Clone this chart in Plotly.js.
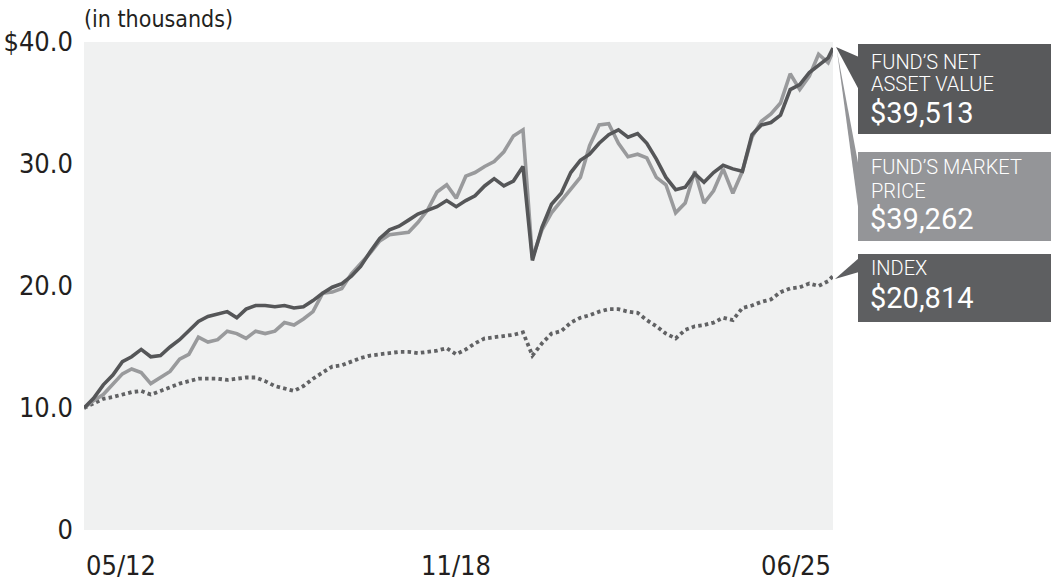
<!DOCTYPE html>
<html>
<head>
<meta charset="utf-8">
<script src="https://cdn.plot.ly/plotly-3.0.1.min.js"></script>
<style>html,body{margin:0;padding:0;background:#fff;}#chart{width:1051px;height:587px;}</style>
</head>
<body>
<div id="chart"></div>
<script>
// ---- Data (values in thousands of dollars) ----
const dates = [
  "2012-05","2012-07","2012-09","2012-11",
  "2013-01","2013-03","2013-05","2013-07","2013-09","2013-11",
  "2014-01","2014-03","2014-05","2014-07","2014-09","2014-11",
  "2015-01","2015-03","2015-05","2015-07","2015-09","2015-11",
  "2016-01","2016-03","2016-05","2016-07","2016-09","2016-11",
  "2017-01","2017-03","2017-05","2017-07","2017-09","2017-11",
  "2018-01","2018-03","2018-05","2018-07","2018-09","2018-11",
  "2019-01","2019-03","2019-05","2019-07","2019-09","2019-11",
  "2020-01","2020-03","2020-05","2020-07","2020-09","2020-11",
  "2021-01","2021-03","2021-05","2021-07","2021-09","2021-11",
  "2022-01","2022-03","2022-05","2022-07","2022-09","2022-11",
  "2023-01","2023-03","2023-05","2023-07","2023-09","2023-11",
  "2024-01","2024-03","2024-05","2024-07","2024-09","2024-11",
  "2025-01","2025-03","2025-05","2025-06"
];
const navValues = [
  10.0,10.8,11.9,12.7,13.8,14.2,14.8,14.2,14.3,15.0,
  15.6,16.3,17.1,17.5,17.7,17.9,17.4,18.1,18.4,18.4,
  18.3,18.4,18.2,18.3,18.8,19.4,19.9,20.2,20.8,21.6,
  22.8,23.9,24.6,24.9,25.4,25.9,26.2,26.5,27.0,26.5,
  27.0,27.4,28.2,28.8,28.2,28.6,29.8,22.1,24.8,26.7,
  27.6,29.3,30.3,30.8,31.7,32.4,32.8,32.2,32.5,31.7,
  30.4,28.9,27.9,28.1,29.2,28.5,29.3,29.9,29.6,29.4,
  32.4,33.2,33.4,34.0,36.1,36.5,37.5,38.1,38.7,39.513
];
const marketValues = [
  10.0,10.6,11.1,11.9,12.8,13.2,12.9,12.0,12.5,13.0,
  14.0,14.4,15.8,15.4,15.6,16.3,16.1,15.7,16.3,16.1,
  16.3,17.0,16.8,17.3,17.9,19.4,19.5,19.8,21.0,21.8,
  22.7,23.7,24.2,24.3,24.4,25.2,26.2,27.7,28.3,27.2,
  29.0,29.3,29.8,30.2,31.0,32.3,32.8,22.3,24.6,26.0,
  27.0,28.0,28.9,31.5,33.2,33.3,31.7,30.6,30.8,30.5,
  28.9,28.3,26.0,26.8,29.4,26.8,27.8,29.6,27.6,29.4,
  32.2,33.5,34.1,35.0,37.4,36.1,37.2,39.0,38.3,39.262
];
const indexValues = [
  10.0,10.4,10.75,10.9,11.1,11.3,11.4,11.1,11.4,11.7,
  12.0,12.2,12.4,12.4,12.4,12.3,12.4,12.5,12.5,12.2,
  11.8,11.6,11.4,11.8,12.4,12.9,13.4,13.5,13.8,14.1,
  14.3,14.4,14.5,14.6,14.6,14.5,14.6,14.7,14.9,14.4,
  14.8,15.3,15.7,15.8,15.9,16.0,16.2,14.3,15.3,16.1,
  16.3,17.0,17.4,17.6,17.9,18.1,18.1,17.9,17.8,17.2,
  16.7,16.1,15.7,16.4,16.7,16.8,17.0,17.4,17.2,18.2,
  18.4,18.7,18.9,19.5,19.8,19.9,20.2,20.0,20.4,20.814
];
const yTickVals = [0, 10, 20, 30, 40];
const yTickText = ["0", "10.0", "20.0", "30.0", "$40.0"];
const xTickVals = ["2012-05", "2018-11", "2025-06"];
const xTickText = ["05/12", "11/18", "06/25"];
const xTickAnchors = ["left", "center", "right"];
const unitsLabel = "(in thousands)";
const navLabel = ["FUND\u2019S NET", "ASSET VALUE"];
const marketLabel = ["FUND\u2019S MARKET", "PRICE"];
const indexLabel = ["INDEX"];

// ---- Helpers ----
const L = 84, R = 833, T = 42, B = 530;
const fx = px => (px - L) / (R - L);
const fy = py => (B - py) / (B - T);
const money = v => "$" + Math.round(v * 1000).toLocaleString("en-US");
const last = a => a[a.length - 1];

const axisFont = {family: "DejaVu Sans Condensed, sans-serif", size: 27, color: "#231f20"};
const boxLabelFont = {family: "Roboto, Liberation Sans, sans-serif", size: 20, color: "#ffffff", weight: 300};
const boxValueFont = {family: "Roboto, Liberation Sans, sans-serif", size: 29, color: "#ffffff", weight: 400};

const NAV_COLOR = "#555658", MKT_COLOR = "#999a9c", IDX_COLOR = "#616264";
const NAV_BOX = "#58595b", MKT_BOX = "#949598", IDX_BOX = "#5e5f61";

const traces = [
  {x: dates, y: indexValues, type: "scatter", mode: "lines", name: "Index",
   line: {color: IDX_COLOR, width: 3.8, dash: "3.5px,3.2px"}, hoverinfo: "skip"},
  {x: dates, y: marketValues, type: "scatter", mode: "lines", name: "Market Price",
   line: {color: MKT_COLOR, width: 3.6}, hoverinfo: "skip"},
  {x: dates, y: navValues, type: "scatter", mode: "lines", name: "NAV",
   line: {color: NAV_COLOR, width: 3.6}, hoverinfo: "skip"}
];

const annotations = [];
xTickVals.forEach((v, i) => annotations.push({
  x: v, xref: "x", y: 0, yref: "paper", yanchor: "top", yshift: -18,
  xanchor: xTickAnchors[i], text: xTickText[i], showarrow: false, font: axisFont
}));
annotations.push({x: 0, xref: "paper", y: 1, yref: "paper", xanchor: "left", yanchor: "bottom",
  yshift: 8, xshift: -2, text: unitsLabel, showarrow: false,
  font: {family: axisFont.family, size: 23, color: "#231f20"}});

function boxText(lines, value, centers) {
  lines.forEach((t, i) => annotations.push({
    x: fx(869), xref: "paper", y: fy(centers[i]), yref: "paper", xanchor: "left", yanchor: "middle",
    text: t, showarrow: false, font: boxLabelFont
  }));
  annotations.push({x: fx(868), xref: "paper", y: fy(centers[lines.length]), yref: "paper",
    xanchor: "left", yanchor: "middle", text: value, showarrow: false, font: boxValueFont});
}
boxText(navLabel, money(last(navValues)), [62, 84, 113]);
boxText(marketLabel, money(last(marketValues)), [167, 191, 219]);
boxText(indexLabel, money(last(indexValues)), [268, 298]);

function rect(y0, y1, color) {
  return {type: "rect", xref: "paper", yref: "paper", x0: fx(858), x1: fx(1060), y0: fy(y1), y1: fy(y0),
    fillcolor: color, line: {width: 0}, layer: "above"};
}
function tri(pts, color) {
  const d = "M " + pts.map(p => fx(p[0]) + "," + fy(p[1])).join(" L ") + " Z";
  return {type: "path", xref: "paper", yref: "paper", path: d, fillcolor: color, line: {width: 0}, layer: "above"};
}
const shapes = [
  rect(44, 134, NAV_BOX),
  rect(152, 241, MKT_BOX),
  rect(254, 322, IDX_BOX),
  tri([[836, 47], [859, 57], [859, 90]], NAV_BOX),
  tri([[837, 51], [859, 168], [859, 214]], MKT_BOX),
  tri([[835, 279], [859, 258], [859, 272]], IDX_BOX)
];

const layout = {
  width: 1051, height: 587,
  margin: {l: L, r: 1051 - R, t: T, b: 587 - B, pad: 0},
  paper_bgcolor: "#ffffff", plot_bgcolor: "#f0f1f1",
  showlegend: false,
  xaxis: {type: "date", range: ["2012-05-01", "2025-06-01"], showticklabels: false,
    showgrid: false, zeroline: false, showline: false, ticks: "", fixedrange: true},
  yaxis: {range: [0, 40], tickvals: yTickVals, ticktext: yTickText, showgrid: false,
    zeroline: false, showline: false, ticks: "", tickfont: axisFont, ticklabelstandoff: 10, fixedrange: true},
  annotations: annotations,
  shapes: shapes
};

Plotly.newPlot("chart", traces, layout, {staticPlot: true, displayModeBar: false});
</script>
</body>
</html>
